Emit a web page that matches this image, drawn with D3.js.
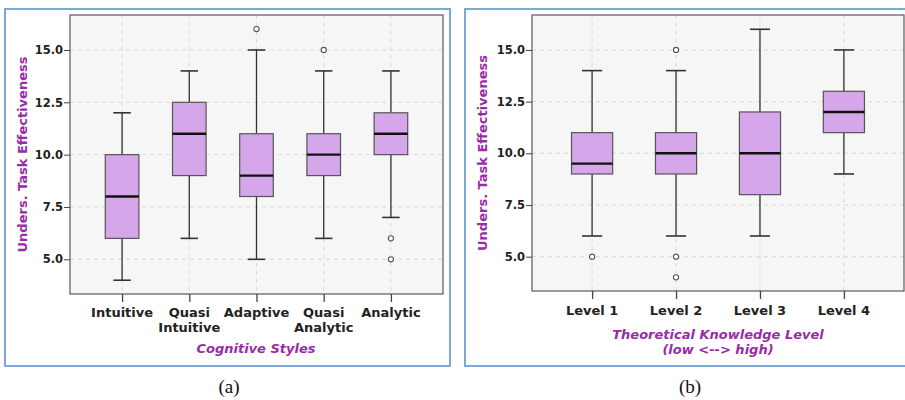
<!DOCTYPE html>
<html><head><meta charset="utf-8">
<script src="https://cdn.jsdelivr.net/npm/d3@7"></script>
<style>
body{margin:0;background:#fff;}
svg{display:block;}
</style></head>
<body>
<svg id="chart" width="905" height="400"></svg>
<script>
// ---- data ----
const stylesCats = [["Intuitive"],["Quasi","Intuitive"],["Adaptive"],["Quasi","Analytic"],["Analytic"]];
const stylesMin    = [4, 6, 5, 6, 7];
const stylesQ1     = [6, 9, 8, 9, 10];
const stylesMedian = [8, 11, 9, 10, 11];
const stylesQ3     = [10, 12.5, 11, 11, 12];
const stylesMax    = [12, 14, 15, 14, 14];
const stylesOutliers = [[], [], [16], [15], [6, 5]];

const levelCats = [["Level 1"],["Level 2"],["Level 3"],["Level 4"]];
const levelMin    = [6, 6, 6, 9];
const levelQ1     = [9, 9, 8, 11];
const levelMedian = [9.5, 10, 10, 12];
const levelQ3     = [11, 11, 12, 13];
const levelMax    = [14, 14, 16, 15];
const levelOutliers = [[5], [15, 5, 4], [], []];

const yTicks = [5.0, 7.5, 10.0, 12.5, 15.0];
const yTitle = "Unders. Task Effectiveness";

const PURPLE = "#9a2ba8";
const svg = d3.select("#chart");

function panel(cfg){
  const g = svg.append("g");
  g.append("rect").attr("x",cfg.frame[0]).attr("y",cfg.frame[1])
    .attr("width",cfg.frame[2]).attr("height",cfg.frame[3])
    .attr("fill","none").attr("stroke","#7ea7d8").attr("stroke-width",2);

  const x = d3.scalePoint().domain(d3.range(cfg.cats.length))
    .range([cfg.x0, cfg.x1]).padding(cfg.pad);
  const y = d3.scaleLinear().domain(cfg.ydom).range([cfg.y1, cfg.y0]);
  const step = x.step();

  g.append("rect").attr("x",cfg.x0).attr("y",cfg.y0)
    .attr("width",cfg.x1-cfg.x0).attr("height",cfg.y1-cfg.y0)
    .attr("fill","#f6f6f6");
  g.selectAll(".hg").data(yTicks).join("line")
    .attr("x1",cfg.x0).attr("x2",cfg.x1)
    .attr("y1",d=>y(d)).attr("y2",d=>y(d))
    .attr("stroke","#d8d8d8").attr("stroke-dasharray","4,4");
  g.selectAll(".vg").data(d3.range(cfg.cats.length)).join("line")
    .attr("x1",d=>x(d)).attr("x2",d=>x(d))
    .attr("y1",cfg.y0).attr("y2",cfg.y1)
    .attr("stroke","#d8d8d8").attr("stroke-dasharray","4,4");

  const bw = step*cfg.boxFrac, cw = step*cfg.capFrac;
  const idx = d3.range(cfg.cats.length);
  const bg = g.selectAll(".box").data(idx).join("g");
  bg.append("line").attr("x1",i=>x(i)).attr("x2",i=>x(i))
    .attr("y1",i=>y(cfg.max[i])).attr("y2",i=>y(cfg.q3[i]))
    .attr("stroke","#333").attr("stroke-width",1.3);
  bg.append("line").attr("x1",i=>x(i)).attr("x2",i=>x(i))
    .attr("y1",i=>y(cfg.q1[i])).attr("y2",i=>y(cfg.min[i]))
    .attr("stroke","#333").attr("stroke-width",1.3);
  bg.append("line").attr("x1",i=>x(i)-cw/2).attr("x2",i=>x(i)+cw/2)
    .attr("y1",i=>y(cfg.max[i])).attr("y2",i=>y(cfg.max[i]))
    .attr("stroke","#333").attr("stroke-width",1.6);
  bg.append("line").attr("x1",i=>x(i)-cw/2).attr("x2",i=>x(i)+cw/2)
    .attr("y1",i=>y(cfg.min[i])).attr("y2",i=>y(cfg.min[i]))
    .attr("stroke","#333").attr("stroke-width",1.6);
  bg.append("rect").attr("x",i=>x(i)-bw/2).attr("width",bw)
    .attr("y",i=>y(cfg.q3[i])).attr("height",i=>y(cfg.q1[i])-y(cfg.q3[i]))
    .attr("fill","#d5a7ea").attr("stroke","#555").attr("stroke-width",1.2);
  bg.append("line").attr("x1",i=>x(i)-bw/2).attr("x2",i=>x(i)+bw/2)
    .attr("y1",i=>y(cfg.med[i])).attr("y2",i=>y(cfg.med[i]))
    .attr("stroke","#111").attr("stroke-width",2.4);
  const outs = [];
  cfg.outliers.forEach((arr,i)=>arr.forEach(v=>outs.push([i,v])));
  g.selectAll(".out").data(outs).join("circle")
    .attr("cx",d=>x(d[0])).attr("cy",d=>y(d[1])).attr("r",2.6)
    .attr("fill","#fff").attr("stroke","#555").attr("stroke-width",1.1);

  g.append("rect").attr("x",cfg.x0).attr("y",cfg.y0)
    .attr("width",cfg.x1-cfg.x0).attr("height",cfg.y1-cfg.y0)
    .attr("fill","none").attr("stroke","#666").attr("stroke-width",1.3);

  const ya = g.append("g").attr("transform",`translate(${cfg.x0},0)`)
    .call(d3.axisLeft(y).tickValues(yTicks).tickFormat(d3.format(".1f")).tickSize(6).tickPadding(1));
  ya.select(".domain").remove();
  ya.selectAll("line").attr("stroke","#444");
  ya.selectAll("text").attr("font-family","DejaVu Sans").attr("font-weight","bold")
    .attr("font-size",11.5).attr("fill","#222");

  const xa = g.append("g").attr("transform",`translate(0,${cfg.y1})`)
    .call(d3.axisBottom(x).tickSize(8).tickFormat(""));
  xa.select(".domain").remove();
  xa.selectAll("line").attr("stroke","#444").attr("stroke-width",1.3);
  const lab = g.selectAll(".xl").data(idx).join("text")
    .attr("x",i=>x(i)).attr("y",cfg.labY)
    .attr("text-anchor","middle").attr("font-family","DejaVu Sans")
    .attr("font-weight","bold").attr("font-size",13).attr("fill","#222");
  lab.selectAll("tspan").data(i=>cfg.cats[i].map((t,k)=>({t,k,i}))).join("tspan")
    .attr("x",d=>x(d.i)).attr("dy",d=>d.k===0?0:15).text(d=>d.t);

  const cy = (cfg.y0+cfg.y1)/2;
  g.append("text").attr("transform",`translate(${cfg.ytX},${cy}) rotate(-90)`)
    .attr("text-anchor","middle").attr("font-family","DejaVu Sans")
    .attr("font-weight","bold").attr("font-size",13).attr("fill",PURPLE)
    .text(yTitle);
  const xt = g.append("text").attr("text-anchor","middle")
    .attr("font-family","DejaVu Sans").attr("font-style","italic")
    .attr("font-weight","bold").attr("font-size",13).attr("fill",PURPLE);
  cfg.xTitle.forEach((t,k)=>xt.append("tspan").attr("x",cfg.xtX).attr("y",cfg.xtY+k*15).text(t));
  g.append("text").attr("x",cfg.capX).attr("y",393).attr("text-anchor","middle")
    .attr("font-family","Liberation Serif").attr("font-size",19).attr("fill","#111")
    .text(cfg.caption);
}

panel({
  frame:[5,9,445,357], x0:70, x1:443, y0:15, y1:294, pad:0.775,
  ydom:[3.342,16.672], cats:stylesCats,
  min:stylesMin,q1:stylesQ1,med:stylesMedian,q3:stylesQ3,max:stylesMax,outliers:stylesOutliers,
  boxFrac:0.5, capFrac:0.26, labY:317, ytX:27,
  xTitle:["Cognitive Styles"], xtX:256, xtY:353,
  caption:"(a)", capX:229
});
panel({
  frame:[465,9,445,357], x0:532, x1:904, y0:15, y1:291, pad:0.716,
  ydom:[3.34,16.69], cats:levelCats,
  min:levelMin,q1:levelQ1,med:levelMedian,q3:levelQ3,max:levelMax,outliers:levelOutliers,
  boxFrac:0.49, capFrac:0.24, labY:315, ytX:487,
  xTitle:["Theoretical Knowledge Level","(low <--> high)"], xtX:718, xtY:339,
  caption:"(b)", capX:690
});
</script>
</body></html>
